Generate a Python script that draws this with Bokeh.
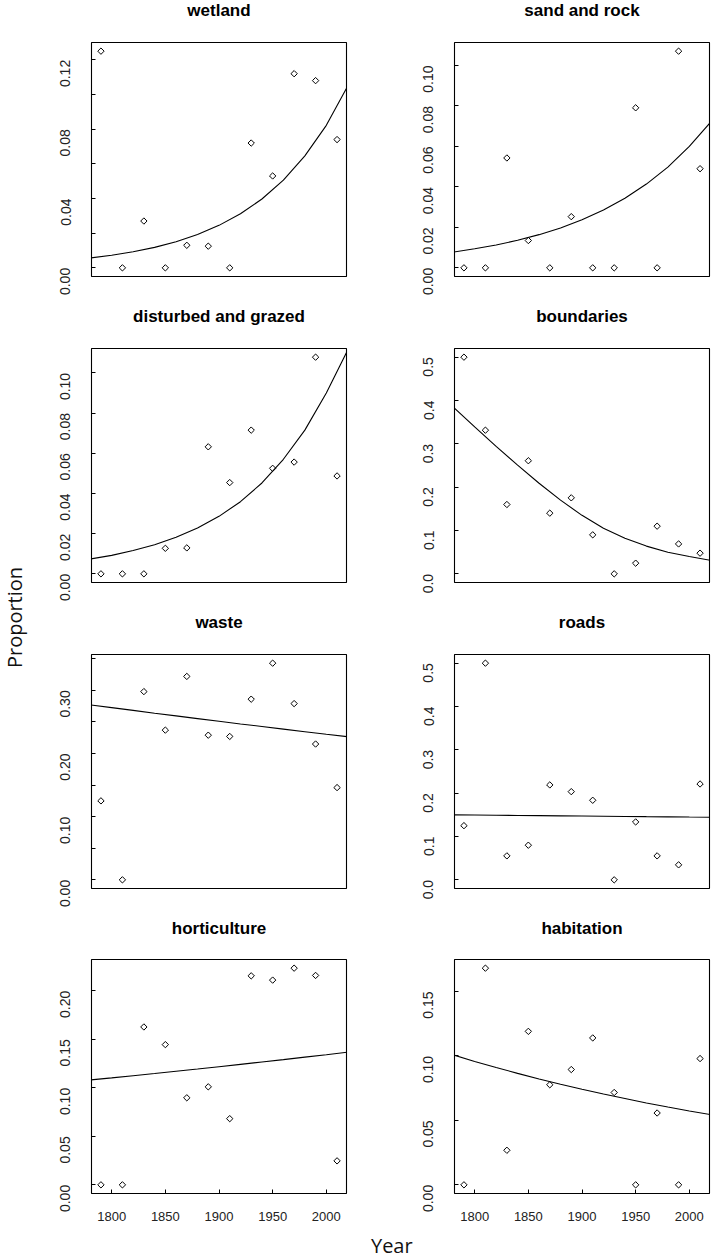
import math
from bokeh.plotting import figure
from bokeh.layouts import row, column
from bokeh.models import Range1d, FixedTicker, NumeralTickFormatter, Label, GlobalInlineStyleSheet
from bokeh.embed import file_html
from bokeh.resources import INLINE

# ---------------- data ----------------
years = [1790, 1810, 1830, 1850, 1870, 1890, 1910, 1930, 1950, 1970, 1990, 2010]
fit_years = [1780, 1800, 1820, 1840, 1860, 1880, 1900, 1920, 1940, 1960, 1980, 2000, 2020]

wetland = [0.125, 0.0, 0.027, 0.0, 0.013, 0.0125, 0.0, 0.072, 0.053, 0.112, 0.108, 0.074]
wetland_fit = [0.0057, 0.0073, 0.0093, 0.0118, 0.0151, 0.0192, 0.0245, 0.0312, 0.0397, 0.0506, 0.0646, 0.0822, 0.1049]

sand_rock = [0.0, 0.0, 0.0543, 0.0135, 0.0, 0.0253, 0.0, 0.0, 0.0791, 0.0, 0.1071, 0.049]
sand_rock_fit = [0.0078, 0.0094, 0.0113, 0.0136, 0.0164, 0.0197, 0.0238, 0.0286, 0.0344, 0.0414, 0.0498, 0.0600, 0.0721]

disturbed = [0.0, 0.0, 0.0, 0.0127, 0.0129, 0.0632, 0.0454, 0.0715, 0.0525, 0.0556, 0.1078, 0.0487]
disturbed_fit = [0.0074, 0.0092, 0.0116, 0.0145, 0.0182, 0.0228, 0.0286, 0.0359, 0.0452, 0.0570, 0.0715, 0.0900, 0.1114]

boundaries = [0.5, 0.3315, 0.160, 0.261, 0.140, 0.1754, 0.090, 0.0, 0.0246, 0.110, 0.069, 0.0477]
boundaries_fit = [0.385, 0.339, 0.294, 0.251, 0.209, 0.170, 0.135, 0.105, 0.082, 0.064, 0.050, 0.040, 0.031]

waste = [0.125, 0.0, 0.298, 0.237, 0.322, 0.229, 0.227, 0.286, 0.343, 0.279, 0.215, 0.146]
waste_fit = [0.2770, 0.2726, 0.2682, 0.2638, 0.2595, 0.2552, 0.2510, 0.2468, 0.2427, 0.2386, 0.2345, 0.2305, 0.2266]

roads = [0.125, 0.5, 0.0553, 0.0799, 0.219, 0.2035, 0.1836, 0.0, 0.1336, 0.0553, 0.0346, 0.2212]
roads_fit = [0.1500, 0.1495, 0.1491, 0.1486, 0.1481, 0.1477, 0.1472, 0.1468, 0.1463, 0.1458, 0.1454, 0.1449, 0.1445]

horticulture = [0.0, 0.0, 0.1627, 0.1445, 0.0897, 0.101, 0.0682, 0.2154, 0.211, 0.2233, 0.2158, 0.0247]
horticulture_fit = [0.1081, 0.1102, 0.1125, 0.1147, 0.1170, 0.1193, 0.1217, 0.1241, 0.1266, 0.1290, 0.1316, 0.1341, 0.1368]

habitation = [0.0, 0.168, 0.0268, 0.119, 0.0776, 0.0894, 0.1139, 0.0716, 0.0, 0.0557, 0.0, 0.0979]
habitation_fit = [0.1008, 0.0957, 0.0910, 0.0864, 0.0821, 0.0780, 0.0741, 0.0704, 0.0669, 0.0635, 0.0603, 0.0573, 0.0544]

titles = ["wetland", "sand and rock", "disturbed and grazed", "boundaries",
          "waste", "roads", "horticulture", "habitation"]

ticks_002 = [0.0, 0.02, 0.04, 0.06, 0.08, 0.10]
ticks_wet_major = [0.0, 0.04, 0.08, 0.12]
ticks_wet_minor = [0.02, 0.06, 0.10]
ticks_01 = [0.0, 0.1, 0.2, 0.3, 0.4, 0.5]
ticks_waste_major = [0.0, 0.10, 0.20, 0.30]
ticks_waste_minor = [0.05, 0.15, 0.25, 0.35]
ticks_hort = [0.0, 0.05, 0.10, 0.15, 0.20]
ticks_hab = [0.0, 0.05, 0.10, 0.15]
year_ticks = [1800, 1850, 1900, 1950, 2000]

x_label = "Year"
y_label = "Proportion"

# ---------------- styling / layout ----------------
TICK_FONT = "Liberation Sans"
TITLE_FONT = "Liberation Sans"
LABEL_FONT = "Open Sans"
TICK_COLOR = "#222222"

STRIP_W = 30          # left strip with "Proportion"
TOTAL_W = 711
TOTAL_H = 1259
YEAR_H = 29           # bottom strip with "Year"
FRAME_W = 255
FRAME_H = 234
LEFT_FRAME_X = 91     # page x of the left frames
RIGHT_FRAME_X = 454   # page x of the right frames
TITLE_H = 24          # strip that carries the panel titles
TITLE_MID = 9.6       # title centre, px below strip top

span = max(years) - min(years)
x_start = min(years) - 0.04 * span
x_end = max(years) + 0.04 * span


def blank(width, height, xr, yr):
    f = figure(width=width, height=height, x_range=xr, y_range=yr,
               x_axis_location=None, y_axis_location=None, min_border=0,
               toolbar_location=None, output_backend="svg", outline_line_color=None,
               background_fill_color="white", border_fill_color="white")
    f.grid.visible = False
    return f


def title_strip(left_title, right_title):
    w = TOTAL_W - STRIP_W
    f = blank(w, TITLE_H, Range1d(STRIP_W, TOTAL_W), Range1d(TITLE_H, 0))
    for txt, fx in ((left_title, LEFT_FRAME_X), (right_title, RIGHT_FRAME_X)):
        f.add_layout(Label(x=fx + FRAME_W / 2, y=TITLE_MID, text=txt, text_align="center",
                           text_baseline="middle", text_font=TITLE_FONT,
                           text_font_size="17px", text_font_style="bold", text_color="black"))
    return f


def panel(ys, fit, major, minor, fmt, left_col, top_b, bottom_b, show_x):
    lo, hi = min(ys), max(ys)
    pad = 0.04 * (hi - lo)
    p = figure(frame_width=FRAME_W, frame_height=FRAME_H,
               x_range=Range1d(x_start, x_end), y_range=Range1d(lo - pad, hi + pad),
               output_backend="svg", toolbar_location=None,
               x_axis_location="below" if show_x else None, y_axis_location="left",
               min_border_left=(LEFT_FRAME_X - STRIP_W) if left_col else (RIGHT_FRAME_X - 400),
               min_border_right=(400 - LEFT_FRAME_X - FRAME_W) if left_col else (TOTAL_W - RIGHT_FRAME_X - FRAME_W),
               min_border_top=top_b, min_border_bottom=bottom_b,
               background_fill_color="white", border_fill_color="white")
    p.outline_line_color = "black"
    p.outline_line_width = 1.1
    p.outline_line_alpha = 1.0
    p.grid.visible = False

    ya = p.yaxis[0]
    ya.ticker = FixedTicker(ticks=major, minor_ticks=minor)
    ya.formatter = NumeralTickFormatter(format=fmt)
    ya.major_label_orientation = math.pi / 2
    ya.axis_line_color = None
    ya.major_tick_in = 4
    ya.major_tick_out = 0
    ya.minor_tick_in = 4
    ya.minor_tick_out = 0
    ya.major_tick_line_color = "black"
    ya.minor_tick_line_color = "black"
    ya.major_label_text_font = TICK_FONT
    ya.major_label_text_font_size = "14px"
    ya.major_label_text_color = TICK_COLOR
    ya.major_label_standoff = 26

    if show_x:
        xa = p.xaxis[0]
        xa.ticker = FixedTicker(ticks=year_ticks)
        xa.formatter = NumeralTickFormatter(format="0")
        xa.axis_line_color = None
        xa.major_tick_in = 4
        xa.major_tick_out = 0
        xa.minor_tick_line_color = None
        xa.major_tick_line_color = "black"
        xa.major_label_text_font = TICK_FONT
        xa.major_label_text_font_size = "13px"
        xa.major_label_text_color = TICK_COLOR
        xa.major_label_standoff = 18

    p.line(fit_years, fit, line_color="black", line_width=1.1)
    p.scatter(years, ys, marker="square", angle=math.pi / 4, size=4.5,
              fill_color=None, line_color="black", line_width=1)
    return p


specs = [
    (wetland, wetland_fit, ticks_wet_major, ticks_wet_minor, "0.00"),
    (sand_rock, sand_rock_fit, ticks_002, [], "0.00"),
    (disturbed, disturbed_fit, ticks_002, [], "0.00"),
    (boundaries, boundaries_fit, ticks_01, [], "0.0"),
    (waste, waste_fit, ticks_waste_major, ticks_waste_minor, "0.00"),
    (roads, roads_fit, ticks_01, [], "0.0"),
    (horticulture, horticulture_fit, ticks_hort, [], "0.00"),
    (habitation, habitation_fit, ticks_hab, [], "0.00"),
]

blocks = []
for r in range(4):
    last = (r == 3)
    top_b = 17 if last else 18
    bottom_b = 37 if last else 30
    figs = []
    for c in range(2):
        ys, fit, major, minor, fmt = specs[r * 2 + c]
        figs.append(panel(ys, fit, major, minor, fmt, c == 0, top_b, bottom_b, last))
    blocks.append(title_strip(titles[r * 2], titles[r * 2 + 1]))
    blocks.append(row(*figs, spacing=0))

# strip holding the common y label
prop = blank(STRIP_W, TOTAL_H, Range1d(0, STRIP_W), Range1d(TOTAL_H, 0))
prop.add_layout(Label(x=14, y=617, text=y_label, angle=math.pi / 2, text_align="center",
                      text_baseline="middle", text_font=LABEL_FONT, text_font_size="20px",
                      text_color="#111111"))

# strip holding the common x label
yearf = blank(TOTAL_W - STRIP_W, YEAR_H, Range1d(STRIP_W, TOTAL_W), Range1d(TOTAL_H, TOTAL_H - YEAR_H))
yearf.add_layout(Label(x=391.3, y=TOTAL_H - YEAR_H / 2, text=x_label, text_align="center",
                       text_baseline="middle", text_font=LABEL_FONT, text_font_size="20px",
                       text_color="#111111"))

layout = row(prop, column(*blocks, yearf, spacing=0), spacing=0)
layout.stylesheets = [GlobalInlineStyleSheet(css="html, body { margin: 0; padding: 0; overflow: hidden; }")]

open("out.html", "w").write(file_html(layout, INLINE))
